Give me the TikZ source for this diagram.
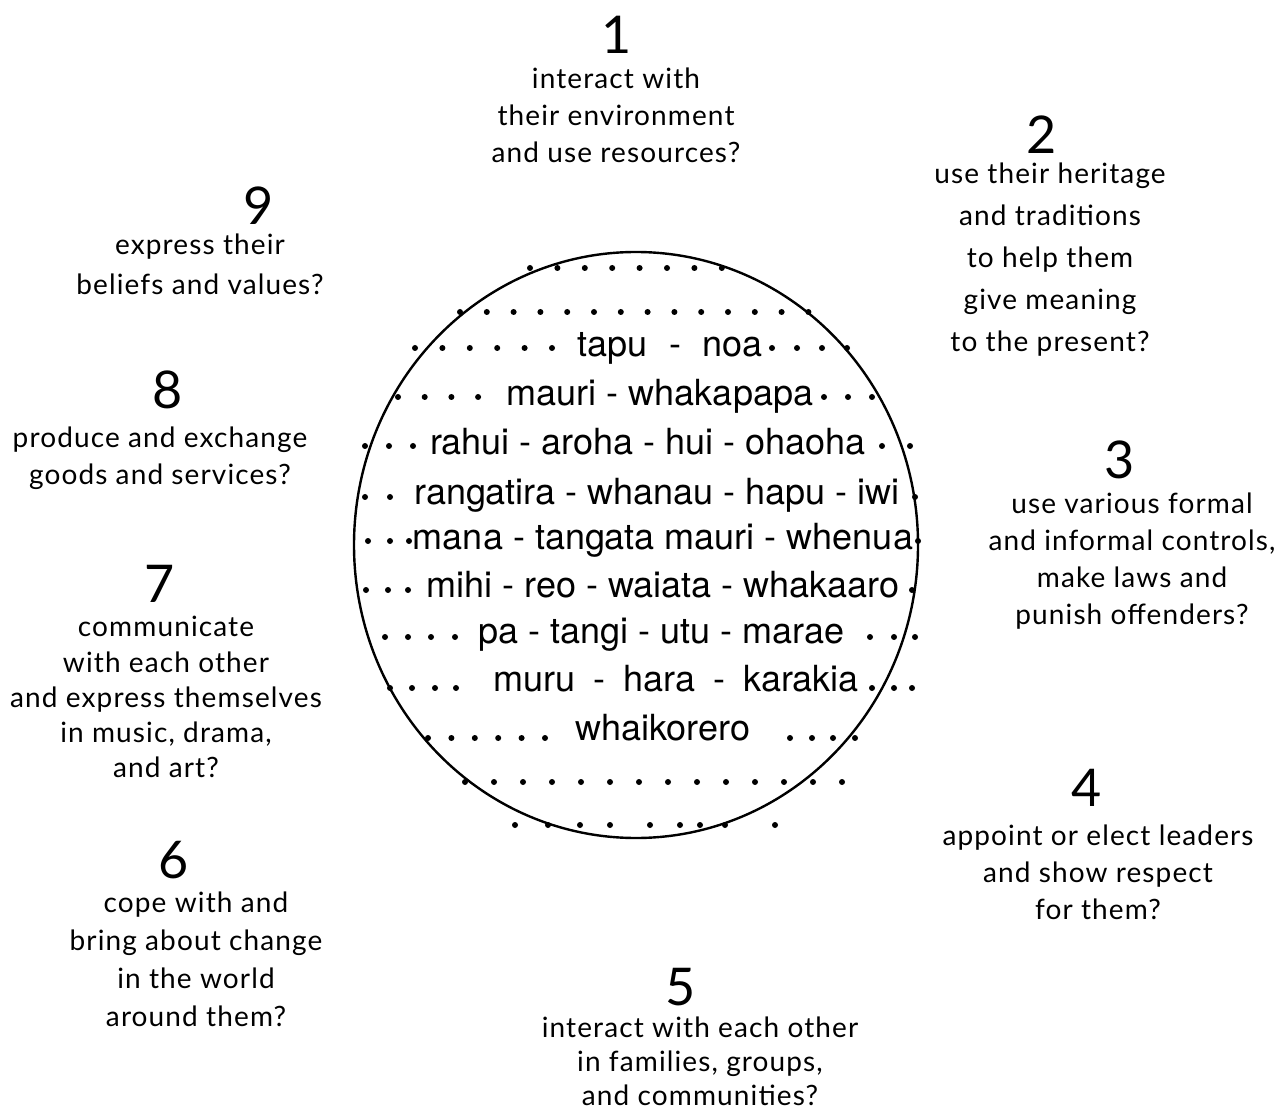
\documentclass[tikz,border=0pt]{standalone}
\usepackage{fontspec}
\setmainfont{Lato}
\newfontfamily\wordfont{TeX Gyre Heros}
\newfontfamily\askfont[LetterSpace=4]{Lato}
\usetikzlibrary{shapes.geometric}

\tikzset{
  world/.style = {draw, ellipse, line width=1.2pt, minimum width=282pt, minimum height=293pt, inner sep=0pt},
  num/.style = {inner sep=0pt, font=\fontsize{26}{26}\selectfont},
  question/.style = {align=center, anchor=north, inner sep=0pt, font=\askfont\fontsize{14}{18.5}\selectfont},
  maori/.style = {anchor=base, inner sep=0pt, font=\wordfont\fontsize{18}{18}\selectfont},
}

\begin{document}
\begin{tikzpicture}[x = 0.5pt, y = -0.5pt]
    \useasboundingbox (0,0) rectangle (1288,1111);

    % circle with the words
    \node[world] (world) at (636,545) {};
    \node[maori] (w1) at (670,357) {\spaceskip=0.6em tapu - noa};
    \node[maori] (w2) at (660,406) {mauri - whakapapa};
    \node[maori] (w3) at (648,455) {rahui - aroha - hui - ohaoha};
    \node[maori] (w4) at (657,504) {rangatira - whanau - hapu - iwi};
    \node[maori] (w5) at (663,549) {mana - tangata mauri - whenua};
    \node[maori] (w6) at (663,597) {mihi - reo - waiata - whakaaro};
    \node[maori] (w7) at (661,643) {pa - tangi - utu - marae};
    \node[maori] (w8) at (676,691) {\spaceskip=0.5em muru - hara - karakia};
    \node[maori] (w9) at (663,740) {whaikorero};

    % rows of dots
    \foreach \x in {530,557.4,...,723} \fill (\x,268) circle (1.5pt);
    \foreach \x in {460,486.8,...,809} \fill (\x,312) circle (1.5pt);
    \foreach \x in {415,442.4,...,553,772,797,...,848} \fill (\x,348) circle (1.5pt);
    \foreach \x in {398,424.7,...,479,824,848,872} \fill (\x,397) circle (1.5pt);
    \foreach \x in {365,389,413,882,910} \fill (\x,446) circle (1.5pt);
    \foreach \x in {365,390,915} \fill (\x,497) circle (1.5pt);
    \foreach \x in {368,390,409,918} \fill (\x,541) circle (1.5pt);
    \foreach \x in {366,388,408,912} \fill (\x,590) circle (1.5pt);
    \foreach \x in {385,408,431,455,870,894,915} \fill (\x,637) circle (1.5pt);
    \foreach \x in {390,412,435,456,872,894,912} \fill (\x,688) circle (1.5pt);
    \foreach \x in {428,451.4,...,546,790,812,833,855} \fill (\x,738) circle (1.5pt);
    \foreach \x in {465,494,...,844} \fill (\x,782) circle (1.5pt);
    \foreach \x in {515,548,580,610,650,680,700,725,775} \fill (\x,825) circle (1.5pt);

    % questions round the circle
    \node[num] (n1) at (617,35) {1};
    \node[question] (q1) at (616,67) {interact with\\their environment\\and use resources?};
    \node[num] (n2) at (1042,135) {2};
    \node[question, font=\askfont\fontsize{14}{21}\selectfont] (q2) at (1050,162)
        {use their heritage\\and traditions\\to help them\\give meaning\\to the present?};
    \node[num] (n3) at (1120,460) {3};
    \node[question] (q3) at (1132,492)
        {use various formal\\and informal controls,\\make laws and\\punish offenders?};
    \node[num] (n4) at (1087,788) {4};
    \node[question] (q4) at (1098,824) {appoint or elect leaders\\and show respect\\for them?};
    \node[num] (n5) at (681,987) {5};
    \node[question, font=\askfont\fontsize{14}{17}\selectfont] (q5) at (700,1016)
        {interact with each other\\in families, groups,\\and communities?};
    \node[num] (n6) at (174,860) {6};
    \node[question, font=\askfont\fontsize{14}{19}\selectfont] (q6) at (196,891)
        {cope with and\\bring about change\\in the world\\around them?};
    \node[num] (n7) at (160,584) {7};
    \node[question, font=\askfont\fontsize{14}{17.6}\selectfont] (q7) at (166,616)
        {communicate\\with each other\\and express themselves\\in music, drama,\\and art?};
    \node[num] (n8) at (168,390) {8};
    \node[question] (q8) at (160,426) {produce and exchange\\goods and services?};
    \node[num] (n9) at (259,206) {9};
    \node[question, font=\askfont\fontsize{14}{20}\selectfont] (q9) at (200,233) {express their\\beliefs and values?};
\end{tikzpicture}
\end{document}
